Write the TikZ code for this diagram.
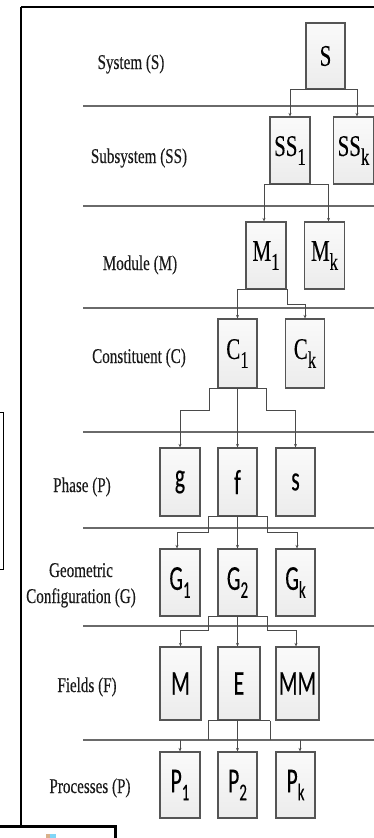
\documentclass[tikz,border=0pt]{standalone}
\usepackage{fontspec}
\setmainfont{Liberation Serif}
\newfontfamily\lblserif[FakeBold=0.35]{Liberation Serif}
\newfontfamily\boxserif[FakeBold=0.2]{Liberation Serif}
\newfontfamily\sansf[FakeBold=0.2]{Carlito}
\usetikzlibrary{arrows.meta,shadows}

% horizontally condensed text
\newcommand{\sq}[2][0.72]{\scalebox{#1}[1]{#2}}
% lowered index in a given size
\newcommand{\sub}[3]{\raisebox{-#2}{\fontsize{#1}{#1}\selectfont #3}}

\definecolor{boxedge}{HTML}{555555}
\definecolor{boxfill}{HTML}{ECECEC}
\definecolor{sepgray}{HTML}{6A6A6A}
\definecolor{linkgray}{HTML}{4A4A4A}
\definecolor{labeltext}{HTML}{1A1A1A}

\tikzset{
  box/.style={draw=boxedge, line width=1.2pt, top color=white!98!black, bottom color=boxfill,
    minimum width=40pt, minimum height=67pt, inner sep=0pt,
    drop shadow={opacity=0.2, shadow xshift=0.8pt, shadow yshift=-0.8pt}},
  serifbox/.style={box, font=\fontsize{30}{30}\boxserif, text=black},
  sansbox/.style={box, font=\fontsize{35}{35}\sansf, text=black},
  lbl/.style={anchor=base, font=\fontsize{21}{27}\lblserif, text=labeltext, inner sep=0pt, align=center},
  sep/.style={draw=sepgray, line width=2pt},
  link/.style={draw=linkgray, line width=0.9pt},
  arr/.style={link, -{Stealth[length=3.5pt,width=3pt]}},
  frame/.style={draw=black, line width=#1},
}

\begin{document}
\begin{tikzpicture}[x=1pt,y=-1pt]
\useasboundingbox (0,0) rectangle (374,838);

% outer frame pieces
\draw[frame=2pt] (21,7) -- (374,7);
\draw[frame=1.4pt] (21,7) -- (21,826);
\draw[frame=3pt] (0,826) -- (115,826) -- (115,840);
\draw[frame=1pt] (0,412) -- (3,412) -- (3,569) -- (0,569);
\fill[brown!60] (46,834) rectangle (50,838);
\fill[cyan!50] (50,834) rectangle (56,838);

% level separators
\foreach \yy/\nm in {106/s1,206/s2,308/s3,432/s4,528/s5,626/s6,740/s7}{
  \coordinate (\nm a) at (83,\yy);
  \coordinate (\nm b) at (374,\yy);
  \draw[sep] (\nm a) -- (\nm b);
}

% level names
\node[lbl] (lS)  at (131,69)  {\sq{System (S)}};
\node[lbl] (lSS) at (139,163) {\sq{Subsystem (SS)}};
\node[lbl] (lM)  at (140,270) {\sq{Module (M)}};
\node[lbl] (lC)  at (139,363) {\sq{Constituent (C)}};
\node[lbl] (lP)  at (82,492)  {\sq{Phase (P)}};
\node[lbl] (lG1) at (81,577)  {\sq{Geometric}};
\node[lbl] (lG2) at (81,603)  {\sq{Configuration (G)}};
\node[lbl] (lF)  at (87,692)  {\sq{Fields (F)}};
\node[lbl] (lPr) at (90,793)  {\sq{Processes (P)}};

% hierarchy boxes
\node[serifbox, minimum width=39pt, minimum height=66pt] (S) at (325.5,56) {\sq[0.7]{S}};
\node[serifbox] (SS1) at (290,150.5)   {\sq[0.7]{SS\sub{24}{9pt}{1}}};
\node[serifbox] (SSk) at (353.5,150.5) {\sq[0.7]{SS\sub{24}{9pt}{k}}};
\node[serifbox] (M1)  at (266,255.5)   {\sq[0.7]{M\sub{24}{9pt}{1}}};
\node[serifbox] (Mk)  at (324.5,255.5) {\sq[0.7]{M\sub{24}{9pt}{k}}};
\node[serifbox, minimum width=39pt, minimum height=69pt] (C1) at (237.5,353.5) {\sq[0.7]{C\sub{24}{9pt}{1}}};
\node[serifbox, minimum width=39pt, minimum height=69pt] (Ck) at (305,353.5)   {\sq[0.7]{C\sub{24}{9pt}{k}}};

\node[sansbox, minimum height=68pt] (g) at (180,482)   {\sq[0.62]{g}};
\node[sansbox, minimum width=39pt, minimum height=68pt] (f) at (237.5,482) {\sq[0.62]{f}};
\node[sansbox, minimum width=39pt, minimum height=68pt] (s) at (295.5,482) {\sq[0.62]{s}};

\node[sansbox] (G1) at (180,582.5) {\sq[0.62]{G\sub{24}{8pt}{1}}};
\node[sansbox, minimum width=39pt] (G2) at (237.5,582.5) {\sq[0.62]{G\sub{24}{8pt}{2}}};
\node[sansbox, minimum width=39pt] (Gk) at (295.5,582.5) {\sq[0.62]{G\sub{24}{8pt}{k}}};

\node[sansbox, minimum width=41pt, minimum height=73pt] (M)  at (180.5,683.5) {\sq[0.62]{M}};
\node[sansbox, minimum width=42pt, minimum height=73pt] (E)  at (239,683.5)   {\sq[0.62]{E}};
\node[sansbox, minimum width=43pt, minimum height=73pt] (MM) at (297.5,683.5) {\sq[0.62]{MM}};

\node[sansbox, minimum height=66pt] (P1) at (180,785) {\sq[0.62]{P\sub{24}{8pt}{1}}};
\node[sansbox, minimum width=39pt, minimum height=66pt] (P2) at (237.5,785) {\sq[0.62]{P\sub{24}{8pt}{2}}};
\node[sansbox, minimum width=39pt, minimum height=66pt] (Pk) at (295.5,785) {\sq[0.62]{P\sub{24}{8pt}{k}}};

% connectors
\draw[arr] (S.south) -| (SS1.north);
\draw[arr] (S.south) -| ([xshift=3.5pt]SSk.north);

\draw[arr] (SS1.south) -| ([xshift=-2pt]M1.north);
\draw[arr] (SS1.south) -| ([xshift=4pt]Mk.north);

\draw[arr] (M1.south) -| (C1.north);
\draw[arr] (M1.south) -- ([xshift=1pt]M1.south east) -- ++(0,15) -| (Ck.north);

\draw[arr] (C1.south) -- ++(-28.5,0) -- ++(0,22) -| (g.north);
\draw[arr] (C1.south) -- (f.north);
\draw[arr] (C1.south) -- ++(28.5,0) -- ++(0,22) -| (s.north);

\draw[arr] (f.south) -- ++(-29.5,0) -- ++(0,16) -| ([xshift=-3pt]G1.north);
\draw[arr] (f.south) -- (G2.north);
\draw[arr] (f.south) -- ++(29.5,0) -- ++(0,16) -| ([xshift=1.5pt]Gk.north);

\draw[arr] (G2.south) -- ++(-29.5,0) -- ++(0,14) -| (M.north);
\draw[arr] (G2.south) -- (G2.south |- E.north);
\draw[arr] (G2.south) -- ++(29.5,0) -- ++(0,14) -| ([xshift=-1.5pt]MM.north);

\draw[link] ([xshift=-31pt]E.south) -- ([xshift=31pt]E.south);
\draw[link] ([xshift=-31pt]E.south) -- ([xshift=-31pt]E.south |- s7a);
\draw[link] ([xshift=-2pt]E.south) -- ([xshift=-2pt]E.south |- s7a);
\draw[link] ([xshift=31pt]E.south) -- ([xshift=31pt]E.south |- s7a);
\draw[arr] (P1.north |- s7a) -- (P1.north);
\draw[arr] (P2.north |- s7a) -- (P2.north);
\draw[arr] ([xshift=4.5pt]Pk.north |- s7a) -- ([xshift=4.5pt]Pk.north);
\end{tikzpicture}
\end{document}
